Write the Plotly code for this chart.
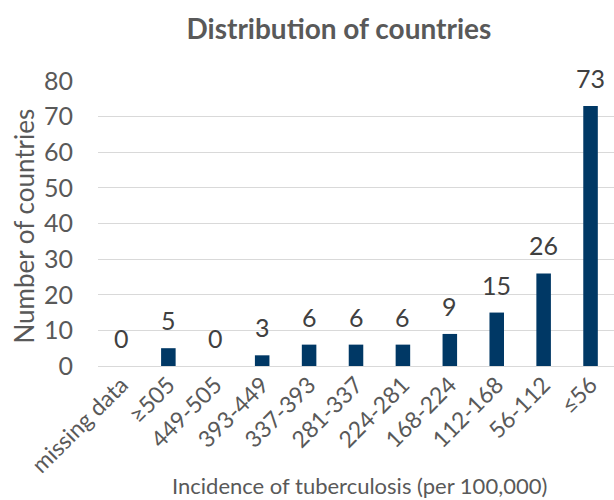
import plotly.graph_objects as go

categories = ["missing data", "≥505", "449-505", "393-449", "337-393", "281-337",
              "224-281", "168-224", "112-168", "56-112", "≤56"]
counts = [0, 5, 0, 3, 6, 6, 6, 9, 15, 26, 73]
y_ticks = [0, 10, 20, 30, 40, 50, 60, 70, 80]

BAR = "#003865"
TXT = "#595959"
LABEL = "#404040"
FONT = "Lato"

fig = go.Figure(
    go.Bar(
        x=categories,
        y=counts,
        marker=dict(color=BAR, line=dict(width=0)),
        cliponaxis=False,
    )
)

# value labels above each bar
value_labels = [
    dict(x=c, y=v, xref="x", yref="y", text=str(v), showarrow=False,
         xanchor="center", yanchor="bottom", yshift=11,
         font=dict(size=25, color=LABEL, family=FONT))
    for c, v in zip(categories, counts)
]

fig.update_layout(
    width=614,
    height=500,
    margin=dict(l=98, r=0, t=81, b=134),
    paper_bgcolor="white",
    plot_bgcolor="white",
    bargap=0.69,
    showlegend=False,
    font=dict(family=FONT, color=TXT),
    title=dict(
        text="<b>Distribution of countries</b>",
        x=0.552, xanchor="center",
        y=0.942, yanchor="middle",
        font=dict(size=28, color=TXT, family=FONT),
    ),
    xaxis=dict(
        range=[-0.5, 10.5],
        tickangle=-45,
        tickfont=dict(size=23, color=TXT),
        showgrid=False,
        showline=False,
        zeroline=False,
        automargin=False,
    ),
    yaxis=dict(
        range=[0, 80],
        tickvals=y_ticks,
        tickfont=dict(size=25, color=TXT),
        showgrid=True,
        gridcolor="#d9d9d9",
        gridwidth=1,
        zeroline=True,
        zerolinecolor="#d9d9d9",
        zerolinewidth=1,
        showline=False,
        ticklabelstandoff=24,
        automargin=False,
    ),
    annotations=value_labels + [
        dict(text="Incidence of tuberculosis (per 100,000)",
             xref="paper", yref="paper", x=0.506, y=-0.42,
             xanchor="center", yanchor="middle", showarrow=False,
             font=dict(size=22, color=TXT, family=FONT)),
        dict(text="Number of countries", textangle=-90,
             xref="paper", yref="paper", x=-0.143, y=0.49,
             xanchor="center", yanchor="middle", showarrow=False,
             font=dict(size=26, color=TXT, family=FONT)),
    ],
)

fig.write_html("out.html")
